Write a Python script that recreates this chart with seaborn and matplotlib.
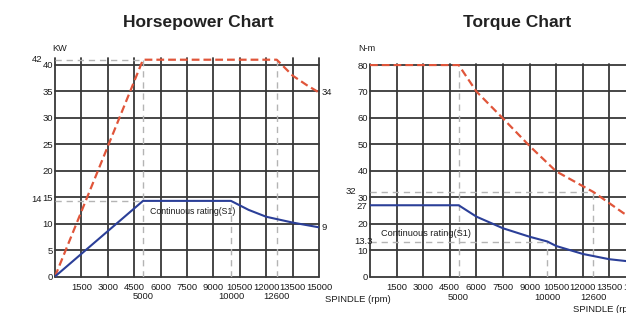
import matplotlib
matplotlib.use('Agg')
import matplotlib.pyplot as plt
import seaborn as sns

# ---- data ----
rpm_ticks = [0, 1500, 3000, 4500, 6000, 7500, 9000, 10500, 12000, 13500, 15000]
rpm_marks = [5000, 10000, 12600]

# horsepower chart (kW)
hp_rpm_max = [0, 5000, 12600, 13500, 14300, 15000]
hp_kw_max = [0, 41, 41, 38, 36.2, 34.8]
hp_rpm_s1 = [0, 5000, 10000, 11000, 12000, 13500, 15000]
hp_kw_s1 = [0, 14.3, 14.3, 12.6, 11.3, 10.2, 9.3]
hp_yticks = [0, 5, 10, 15, 20, 25, 30, 35, 40]

# torque chart (N-m)
tq_rpm_max = [0, 5000, 6000, 7500, 9000, 10500, 12600, 14300, 15000]
tq_nm_max = [80, 80, 70, 59.8, 49.4, 39.8, 32, 24, 21.5]
tq_rpm_s1 = [0, 5000, 6000, 7500, 9000, 10000, 10500, 12000, 13500, 15000]
tq_nm_s1 = [27, 27, 22.7, 18.3, 15.1, 13.3, 11.6, 8.6, 6.6, 5.5]
tq_yticks = [0, 10, 20, 30, 40, 50, 60, 70, 80]

RED = '#e0553a'
BLUE = '#2b3f98'
GRID = '#383838'
REF = '#b4b4b4'
INK = '#1c1c1c'

sns.set_theme(style='white')
plt.rcParams['font.family'] = ['Liberation Sans', 'DejaVu Sans']

fig = plt.figure(figsize=(6.26, 3.13), dpi=100)
W, H = 626, 313
ax1 = fig.add_axes([55 / W, 36.5 / H, 264 / W, 41.3 * 5.2875 / H])
ax2 = fig.add_axes([370 / W, 36.3 / H, 266 / W, 80.5 * 2.646 / H])


def setup(ax, yticks, ytop):
    ax.set_xlim(0, 15000)
    ax.set_ylim(0, ytop)
    ax.set_xticks(rpm_ticks, labels=['' if v == 0 else str(v) for v in rpm_ticks])
    ax.set_xticks(rpm_marks, labels=[str(v) for v in rpm_marks], minor=True)
    ax.set_yticks(yticks, labels=[str(v) for v in yticks])
    ax.tick_params(which='both', length=0, labelsize=6.8, colors=INK)
    ax.tick_params(axis='x', which='major', pad=4.5)
    ax.tick_params(axis='x', which='minor', pad=11.5)
    ax.tick_params(axis='y', pad=1.5)
    ax.grid(True, which='major', color=GRID, lw=1.3)
    for ln in ax.get_xgridlines() + ax.get_ygridlines():
        ln.set_clip_on(False)
    ax.set_axisbelow(True)
    for s in ax.spines.values():
        s.set_visible(False)
    ax.set_xlabel('')
    ax.set_ylabel('')


def curves(ax, xr, yr, xb, yb):
    sns.lineplot(x=xr, y=yr, ax=ax, color=RED, lw=1.6, zorder=4)
    ax.lines[-1].set_dashes([3.5, 1.8])
    sns.lineplot(x=xb, y=yb, ax=ax, color=BLUE, lw=1.5, zorder=4)


def ref(ax, x=None, y=None, lo=0, hi=0):
    if x is not None:
        ax.vlines(x, lo, hi, colors=REF, lw=1.0, linestyles=(0, (4.5, 3.5)), zorder=3)
    else:
        ax.hlines(y, lo, hi, colors=REF, lw=1.0, linestyles=(0, (4.5, 3.5)), zorder=3)


# ---- Horsepower chart ----
ref(ax1, y=hp_kw_max[1], lo=0, hi=rpm_marks[0])
ref(ax1, y=hp_kw_s1[1], lo=0, hi=rpm_marks[0])
ref(ax1, x=rpm_marks[0], lo=0, hi=hp_kw_max[1])
ref(ax1, x=rpm_marks[1], lo=0, hi=hp_kw_s1[2])
ref(ax1, x=rpm_marks[2], lo=0, hi=hp_kw_max[2])
curves(ax1, hp_rpm_max, hp_kw_max, hp_rpm_s1, hp_kw_s1)
setup(ax1, hp_yticks, 41.3)

off = dict(xycoords=('axes fraction', 'data'), textcoords='offset pixels',
           va='center', fontsize=6.8, color=INK)
ax1.annotate('42', (0, hp_kw_max[1]), xytext=(-13, 0), ha='right', **off)
ax1.annotate('14', (0, hp_kw_s1[1]), xytext=(-13, 1), ha='right', **off)
ax1.annotate('34', (1, hp_kw_max[-1]), xytext=(3, 0), ha='left', **off)
ax1.annotate('9', (1, hp_kw_s1[-1]), xytext=(3, 0), ha='left', **off)
ax1.text(5400, 12.2, 'Continuous rating(S1)', fontsize=6.3, va='center', color=INK)

# ---- Torque chart ----
ref(ax2, y=tq_nm_max[6], lo=0, hi=rpm_marks[2])
ref(ax2, y=tq_nm_s1[5], lo=0, hi=rpm_marks[1])
ref(ax2, x=rpm_marks[0], lo=0, hi=tq_nm_max[1])
ref(ax2, x=rpm_marks[1], lo=0, hi=tq_nm_s1[5])
ref(ax2, x=rpm_marks[2], lo=0, hi=tq_nm_max[6])
curves(ax2, tq_rpm_max, tq_nm_max, tq_rpm_s1, tq_nm_s1)
setup(ax2, tq_yticks, 80.5)

ax2.annotate('32', (0, tq_nm_max[6]), xytext=(-14, 1), ha='right', **off)
ax2.annotate('27', (0, tq_nm_s1[0]), xytext=(-3, -1), ha='right', **off)
ax2.annotate('13.3', (0, tq_nm_s1[5]), xytext=(3, 0), ha='right', **off)
ax2.text(600, 16.5, 'Continuous rating(S1)', fontsize=6.6, va='center', color=INK)

# ---- figure texts ----
fig.text(198 / W, 1 - 23 / H, 'Horsepower Chart', ha='center', va='center',
         fontsize=12.5, fontweight='bold', color='#222222')
fig.text(517 / W, 1 - 23 / H, 'Torque Chart', ha='center', va='center',
         fontsize=12.5, fontweight='bold', color='#222222')
fig.text(60 / W, 1 - 48.5 / H, 'KW', ha='center', va='center', fontsize=6.6, color=INK)
fig.text(367 / W, 1 - 48.5 / H, 'N-m', ha='center', va='center', fontsize=6.6, color=INK)
fig.text(325 / W, 1 - 300 / H, 'SPINDLE (rpm)', ha='left', va='center', fontsize=6.8, color=INK)
fig.text(573 / W, 1 - 310 / H, 'SPINDLE (rpm)', ha='left', va='center', fontsize=6.8, color=INK)

fig.savefig('out.png', dpi=100)
